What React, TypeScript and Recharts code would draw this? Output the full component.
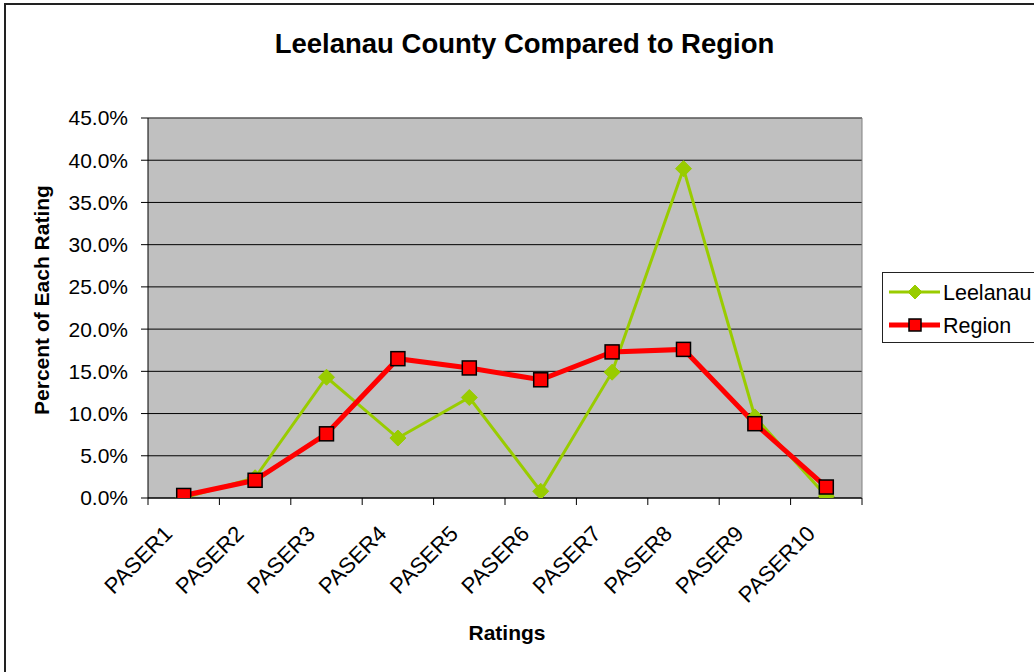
import React from "react"
import { LineChart, Line, XAxis, YAxis, CartesianGrid, ReferenceLine, Legend } from "recharts"

const CATEGORIES = ["PASER1", "PASER2", "PASER3", "PASER4", "PASER5", "PASER6", "PASER7", "PASER8", "PASER9", "PASER10"]
const LEELANAU = [0, 2.4, 14.3, 7.1, 11.9, 0.8, 14.9, 39.0, 9.6, 0.2]
const REGION = [0.3, 2.1, 7.6, 16.5, 15.4, 14.0, 17.3, 17.6, 8.8, 1.3]
const Y_TICKS = [0, 5, 10, 15, 20, 25, 30, 35, 40, 45]

const FONT = '"Liberation Sans", Arial, sans-serif'
const GREEN = "#99CC00"
const RED = "#FF0000"

const W = 1034
const H = 672
const PLOT_LEFT = 148
const PLOT_RIGHT = 862
const BAND = (PLOT_RIGHT - PLOT_LEFT) / CATEGORIES.length

const data = CATEGORIES.map((name, i) => ({ name, Leelanau: LEELANAU[i], Region: REGION[i] }))

// recharts passes its own r to dot elements, so size uses another prop name
const Diamond = ({ cx, cy, size = 8 }: any) => {
  if (cx == null || cy == null) return null
  return (
    <polygon
      points={`${cx},${cy - size} ${cx + size},${cy} ${cx},${cy + size} ${cx - size},${cy}`}
      fill={GREEN}
      stroke={GREEN}
    />
  )
}

const Square = ({ cx, cy, size = 14 }: any) => {
  if (cx == null || cy == null) return null
  return <rect x={cx - size / 2} y={cy - size / 2} width={size} height={size} fill={RED} stroke="#000" strokeWidth={1.5} />
}

const XTick = ({ x, y, payload, index }: any) => {
  const half = BAND / 2
  const tx = x - 10
  const ty = y + 37
  return (
    <g>
      <line x1={x - half} x2={x - half} y1={y} y2={y + 7} stroke="#000" />
      {index === CATEGORIES.length - 1 && <line x1={x + half} x2={x + half} y1={y} y2={y + 7} stroke="#000" />}
      <text
        x={tx}
        y={ty}
        transform={`rotate(-45 ${tx} ${ty})`}
        textAnchor="end"
        fontSize={22}
        fontFamily={FONT}
        fill="#000"
      >
        {payload.value}
      </text>
    </g>
  )
}

const LegendBox = () => (
  <svg width={160} height={72} style={{ display: "block" }}>
    <rect x={0.5} y={0.5} width={170} height={70} fill="#fff" stroke="#222" />
    <line x1={7} x2={58} y1={20} y2={20} stroke={GREEN} strokeWidth={3} />
    <Diamond cx={33} cy={20} size={7} />
    <text x={61} y={20} dy="0.35em" fontSize={21.5} fontFamily={FONT} fill="#000">Leelanau</text>
    <line x1={7} x2={58} y1={53} y2={53} stroke={RED} strokeWidth={5} />
    <Square cx={33} cy={53} size={12} />
    <text x={61} y={53} dy="0.35em" fontSize={21.5} fontFamily={FONT} fill="#000">Region</text>
  </svg>
)

export default function App() {
  return (
    <div style={{ position: "absolute", left: 0, top: 0, width: W, height: H, overflow: "hidden", background: "#fff" }}>
      <LineChart width={W} height={H} data={data} margin={{ top: 118, right: 171, bottom: 24, left: 28 }}>
        <CartesianGrid vertical={false} stroke="#000" fill="#C0C0C0" fillOpacity={1} />
        <XAxis
          dataKey="name"
          scale="point"
          padding={{ left: BAND / 2, right: BAND / 2 }}
          height={150}
          tickSize={0}
          tickMargin={0}
          tickLine={false}
          axisLine={{ stroke: "#000" }}
          tick={<XTick />}
          interval={0}
        />
        <YAxis
          width={120}
          domain={[0, 45]}
          ticks={Y_TICKS}
          allowDataOverflow
          tickSize={7}
          tickMargin={13}
          axisLine={{ stroke: "#000" }}
          tickLine={{ stroke: "#000" }}
          tick={{ fontSize: 21, fill: "#000", fontFamily: FONT }}
          tickFormatter={(v: number) => `${v.toFixed(1)}%`}
        />
        <YAxis
          yAxisId="right"
          orientation="right"
          width={1}
          tick={false}
          tickLine={false}
          axisLine={{ stroke: "#808080" }}
        />
        <ReferenceLine y={45} stroke="#808080" />
        <Legend
          layout="horizontal"
          verticalAlign="middle"
          align="center"
          content={<LegendBox />}
          wrapperStyle={{ position: "absolute", left: 882, top: 272, width: 160, height: 72 }}
        />
        <Line
          type="linear"
          dataKey="Leelanau"
          stroke={GREEN}
          strokeWidth={3}
          dot={<Diamond />}
          activeDot={false}
          isAnimationActive={false}
        />
        <Line
          type="linear"
          dataKey="Region"
          stroke={RED}
          strokeWidth={5}
          dot={<Square />}
          activeDot={false}
          isAnimationActive={false}
        />
      </LineChart>
      <svg width={W} height={H} style={{ position: "absolute", left: 0, top: 0, pointerEvents: "none" }}>
        <text x={524.5} y={53} textAnchor="middle" fontSize={27.5} fontWeight="bold" fontFamily={FONT} fill="#000">
          Leelanau County Compared to Region
        </text>
        <text
          x={42}
          y={300}
          transform="rotate(-90 42 300)"
          textAnchor="middle"
          dy="0.35em"
          fontSize={21}
          fontWeight="bold"
          fontFamily={FONT}
          fill="#000"
        >
          Percent of Each Rating
        </text>
        <text x={507} y={640} textAnchor="middle" fontSize={21} fontWeight="bold" fontFamily={FONT} fill="#000">
          Ratings
        </text>
        <rect x={5} y={4} width={W + 20} height={H + 20} fill="none" stroke="#222" strokeWidth={2} />
      </svg>
    </div>
  )
}
